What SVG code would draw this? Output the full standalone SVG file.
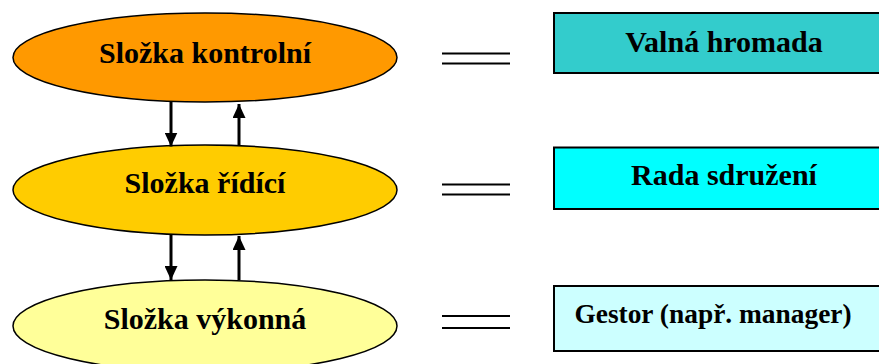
<svg xmlns="http://www.w3.org/2000/svg" width="879" height="364" viewBox="0 0 879 364">
<style>
.ell{stroke:#000;stroke-width:1.5}
.box{stroke:#000;stroke-width:2}
.t{font-family:"Liberation Serif","Times New Roman",serif;font-weight:bold;font-size:30px;fill:#000;text-anchor:middle}
.eq{stroke:#000;stroke-width:2}
.ar{stroke:#000;stroke-width:3;fill:none}
</style>
<defs>
<marker id="ah" viewBox="0 0 14 13" refX="14" refY="6.5" markerWidth="14" markerHeight="13" markerUnits="userSpaceOnUse" orient="auto">
<path d="M0,0 L14,6.5 L0,13 Z" fill="#000"/>
</marker>
</defs>
<rect width="879" height="364" fill="#fff"/>
<g id="node-kontrolni">
<ellipse class="ell" cx="205" cy="57.5" rx="192" ry="44.5" fill="#FF9900"/>
<text class="t" x="205" y="63">Složka kontrolní</text>
</g>
<g id="node-ridici">
<ellipse class="ell" cx="205" cy="190" rx="192" ry="45" fill="#FFCC00"/>
<text class="t" x="205" y="193">Složka řídící</text>
</g>
<g id="node-vykonna">
<ellipse class="ell" cx="205" cy="326" rx="192" ry="46" fill="#FFFF99"/>
<text class="t" x="205" y="329">Složka výkonná</text>
</g>
<g id="node-valna">
<rect class="box" x="554" y="13" width="340" height="60" fill="#33CCCC"/>
<text class="t" x="724" y="52">Valná hromada</text>
</g>
<g id="node-rada">
<rect class="box" x="554" y="147.5" width="340" height="61.5" fill="#00FFFF"/>
<text class="t" x="724" y="185">Rada sdružení</text>
</g>
<g id="node-gestor">
<rect class="box" x="554" y="286" width="340" height="65" fill="#CCFFFF"/>
<text class="t" x="713" y="323" style="font-size:27.4px">Gestor (např. manager)</text>
</g>
<g id="connectors">
<line class="ar" x1="171" y1="102" x2="171" y2="146.5" marker-end="url(#ah)"/>
<line class="ar" x1="239" y1="145" x2="239" y2="104" marker-end="url(#ah)"/>
<line class="ar" x1="171" y1="235" x2="171" y2="280" marker-end="url(#ah)"/>
<line class="ar" x1="239" y1="280" x2="239" y2="236" marker-end="url(#ah)"/>
<line class="eq" x1="442" y1="53.5" x2="510" y2="53.5"/>
<line class="eq" x1="442" y1="63.5" x2="510" y2="63.5"/>
<line class="eq" x1="442" y1="184.5" x2="510" y2="184.5"/>
<line class="eq" x1="442" y1="194.5" x2="510" y2="194.5"/>
<line class="eq" x1="442" y1="316" x2="510" y2="316"/>
<line class="eq" x1="442" y1="328" x2="510" y2="328"/>
</g>
</svg>
